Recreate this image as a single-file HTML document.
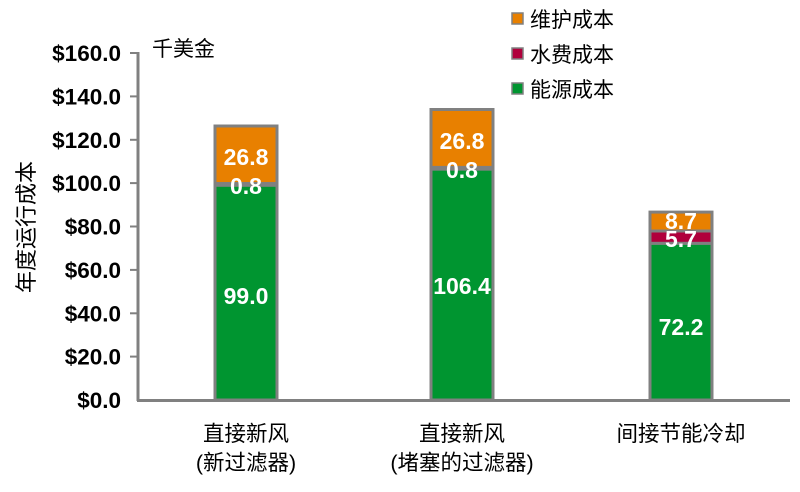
<!DOCTYPE html>
<html><head><meta charset="utf-8"><style>
body{margin:0;background:#fff}
text{font-family:"Liberation Sans","Noto Sans CJK SC",sans-serif}
</style></head><body>
<svg width="800" height="487" viewBox="0 0 800 487" xmlns="http://www.w3.org/2000/svg">
<g stroke="#808080" stroke-width="3">
<line x1="138" y1="52" x2="138" y2="401"/>
<line x1="137" y1="400.5" x2="790" y2="400.5"/>
</g>
<g stroke="#808080" stroke-width="2">
<line x1="130" y1="53" x2="138" y2="53"/>
<line x1="130" y1="96.4" x2="138" y2="96.4"/>
<line x1="130" y1="139.8" x2="138" y2="139.8"/>
<line x1="130" y1="183.1" x2="138" y2="183.1"/>
<line x1="130" y1="226.5" x2="138" y2="226.5"/>
<line x1="130" y1="269.9" x2="138" y2="269.9"/>
<line x1="130" y1="313.3" x2="138" y2="313.3"/>
<line x1="130" y1="356.6" x2="138" y2="356.6"/>
</g>
<g font-size="22.5" font-weight="bold" text-anchor="end" fill="#000">
<text x="121" y="61">$160.0</text>
<text x="121" y="104.4">$140.0</text>
<text x="121" y="147.8">$120.0</text>
<text x="121" y="191.1">$100.0</text>
<text x="121" y="234.5">$80.0</text>
<text x="121" y="277.9">$60.0</text>
<text x="121" y="321.3">$40.0</text>
<text x="121" y="364.6">$20.0</text>
<text x="121" y="408">$0.0</text>
</g>
<text x="152" y="56" font-size="21">千美金</text>
<text transform="translate(34,227) rotate(-90)" font-size="22" text-anchor="middle">年度运行成本</text>
<g stroke="#808080" stroke-width="3">
<rect x="215" y="185.2" width="62" height="214.8" fill="#009530"/>
<rect x="215" y="183.5" width="62" height="1.7" fill="#009530"/>
<rect x="215" y="126" width="62" height="57.5" fill="#E88000"/>
<rect x="431" y="169.1" width="62" height="230.9" fill="#009530"/>
<rect x="431" y="167.4" width="62" height="1.7" fill="#009530"/>
<rect x="431" y="109.5" width="62" height="57.9" fill="#E88000"/>
<rect x="650" y="243.3" width="62" height="156.7" fill="#009530"/>
<rect x="650" y="231" width="62" height="12.3" fill="#B0003C"/>
<rect x="650" y="212.1" width="62" height="18.9" fill="#E88000"/>
</g>
<g font-size="23" font-weight="bold" fill="#fff" text-anchor="middle">
<text x="246" y="165">26.8</text>
<text x="246" y="194">0.8</text>
<text x="246" y="304">99.0</text>
<text x="462" y="149">26.8</text>
<text x="462" y="178">0.8</text>
<text x="462" y="294">106.4</text>
<text x="681" y="229">8.7</text>
<text x="681" y="247">5.7</text>
<text x="681" y="335">72.2</text>
</g>
<g font-size="21.5" text-anchor="middle">
<text x="246" y="441">直接新风</text>
<text x="246" y="470">(新过滤器)</text>
<text x="462" y="441">直接新风</text>
<text x="462" y="470">(堵塞的过滤器)</text>
<text x="681" y="441">间接节能冷却</text>
</g>
<g stroke="#808080" stroke-width="1.5">
<rect x="512" y="13" width="11" height="11" fill="#E88000"/>
<rect x="512" y="48" width="11" height="11" fill="#B0003C"/>
<rect x="512" y="83" width="11" height="11" fill="#009530"/>
</g>
<g font-size="21">
<text x="530" y="27">维护成本</text>
<text x="530" y="62">水费成本</text>
<text x="530" y="97">能源成本</text>
</g>
</svg>
</body></html>
